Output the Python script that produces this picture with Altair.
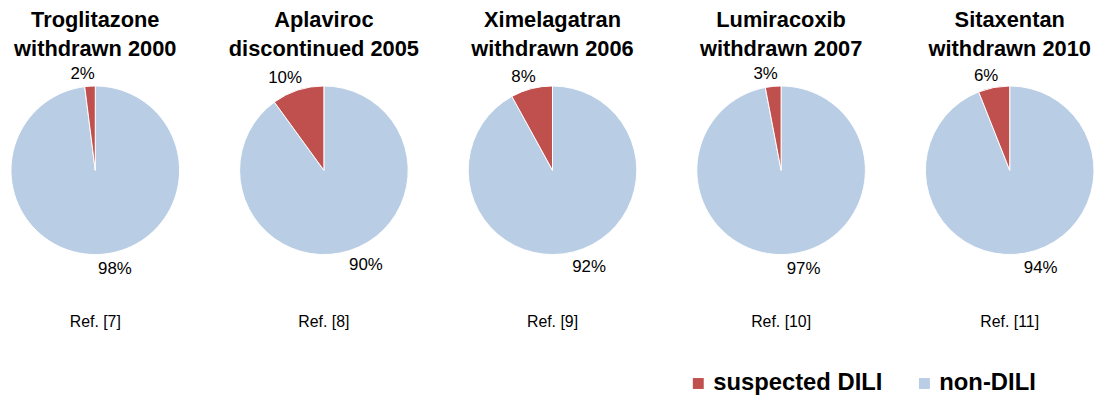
import altair as alt
import pandas as pd

drugs = ["Troglitazone", "Aplaviroc", "Ximelagatran", "Lumiracoxib", "Sitaxentan"]
statuses = ["withdrawn 2000", "discontinued 2005", "withdrawn 2006", "withdrawn 2007", "withdrawn 2010"]
refs = ["Ref. [7]", "Ref. [8]", "Ref. [9]", "Ref. [10]", "Ref. [11]"]
suspected = [2, 10, 8, 3, 6]
non_dili = [98, 90, 92, 97, 94]
categories = ["suspected DILI", "non-DILI"]
colors = ["#C0504D", "#B9CDE5"]

FONT = "Liberation Sans"

rows = []
for d, s, n in zip(drugs, suspected, non_dili):
    rows.append({"drug": d, "category": "non-DILI", "value": n, "order": 0})
    rows.append({"drug": d, "category": "suspected DILI", "value": s, "order": 1})
df = pd.DataFrame(rows)
df["label"] = df["value"].astype(str) + "%"

color = alt.Color(
    "category:N",
    scale=alt.Scale(domain=categories, range=colors),
    legend=alt.Legend(
        title=None,
        orient="none",
        legendX=678,
        legendY=310,
        direction="horizontal",
        symbolType="square",
        symbolSize=121,
        symbolStrokeWidth=0,
        labelFontSize=24,
        labelFontWeight="bold",
        labelFont=FONT,
        labelColor="black",
        labelOffset=3,
        columnPadding=30,
        padding=0,
        labelLimit=400,
    ),
)

panels = []
for i, d in enumerate(drugs):
    sub = df[df.drug == d]
    base = alt.Chart(sub).encode(
        theta=alt.Theta("value:Q", stack=True),
        order=alt.Order("order:Q"),
    )
    pie = base.mark_arc(outerRadius=85, stroke="white", strokeWidth=1).encode(color=color)
    top_lbl = base.mark_text(
        radius=88, align="right", baseline="bottom", dx=5, fontSize=17, font=FONT, color="black"
    ).encode(
        text=alt.condition("datum.category == 'suspected DILI'", alt.Text("label:N"), alt.value(""))
    )
    bot_lbl = base.mark_text(
        radius=92, align="left", baseline="top", dx=-3, fontSize=17, font=FONT, color="black"
    ).encode(
        text=alt.condition("datum.category == 'non-DILI'", alt.Text("label:N"), alt.value(""))
    )
    ref = alt.Chart(pd.DataFrame({"ref": [refs[i]]})).mark_text(
        fontSize=16, font=FONT, color="black"
    ).encode(text="ref:N", x=alt.value(82), y=alt.value(260))
    panel = alt.layer(pie, top_lbl, bot_lbl, ref).properties(
        width=164,
        height=214,
        title=alt.TitleParams(
            text=[d, statuses[i]],
            fontSize=22,
            fontWeight="bold",
            font=FONT,
            lineHeight=29,
            anchor="middle",
            offset=3,
            color="black",
        ),
    )
    panels.append(panel)

chart = alt.hconcat(*panels, spacing=66.5, bounds="flush").properties(
    padding={"left": 1, "top": 0, "right": 0, "bottom": 0}
).configure(font=FONT, view=alt.ViewConfig(stroke=None))

chart.save("out.html", embed_options={"renderer": "svg", "actions": False})
